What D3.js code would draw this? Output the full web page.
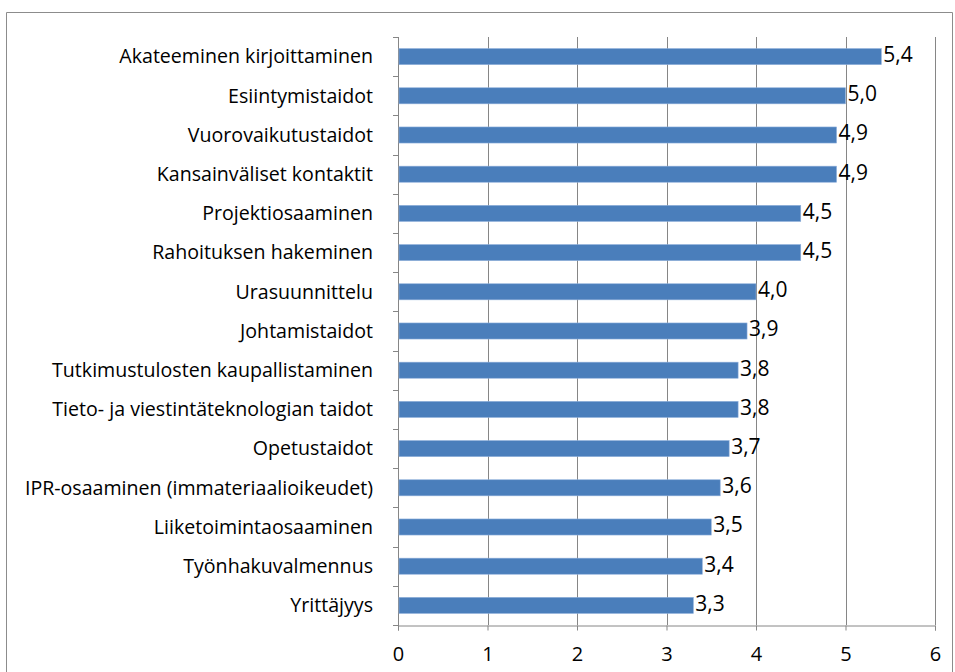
<!DOCTYPE html>
<html>
<head>
<meta charset="utf-8">
<script src="https://cdn.jsdelivr.net/npm/d3@7"></script>
<style>
  body { margin: 0; background: #fff; }
  svg text { font-family: "Open Sans", sans-serif; fill: #000; }
</style>
</head>
<body>
<svg id="chart" width="955" height="672"></svg>
<script>
// categories, top to bottom
var categories = [
  "Akateeminen kirjoittaminen",
  "Esiintymistaidot",
  "Vuorovaikutustaidot",
  "Kansainväliset kontaktit",
  "Projektiosaaminen",
  "Rahoituksen hakeminen",
  "Urasuunnittelu",
  "Johtamistaidot",
  "Tutkimustulosten kaupallistaminen",
  "Tieto- ja viestintäteknologian taidot",
  "Opetustaidot",
  "IPR-osaaminen (immateriaalioikeudet)",
  "Liiketoimintaosaaminen",
  "Työnhakuvalmennus",
  "Yrittäjyys"
];
var values = [5.4, 5.0, 4.9, 4.9, 4.5, 4.5, 4.0, 3.9, 3.8, 3.8, 3.7, 3.6, 3.5, 3.4, 3.3];
var xTicks = [0, 1, 2, 3, 4, 5, 6];

var svg = d3.select("#chart");
var m = {left: 398, right: 935, top: 37, bottom: 625};

// outer frame (bottom edge is cut off in the original)
svg.append("path")
  .attr("d", "M6.5,672 V12.5 H952.5 V672")
  .attr("fill", "none")
  .attr("stroke", "#8c8c8c")
  .attr("stroke-width", 1);

var x = d3.scaleLinear().domain([0, 6]).range([m.left, m.right]);
var y = d3.scaleBand().domain(categories).range([m.top, m.bottom]).paddingInner(0.59).paddingOuter(0.295);
var yb = d3.scaleBand().domain(categories).range([m.top, m.bottom]);

// vertical gridlines
svg.append("g").selectAll("line")
  .data(xTicks.slice(1))
  .enter().append("line")
  .attr("x1", d => Math.round(x(d)) + 0.5)
  .attr("x2", d => Math.round(x(d)) + 0.5)
  .attr("y1", m.top)
  .attr("y2", m.bottom)
  .attr("stroke", "#868686");

// bottom axis
var xAxis = svg.append("g")
  .attr("transform", "translate(0," + (m.bottom + 0.5) + ")")
  .call(d3.axisBottom(x).tickValues(xTicks).tickSize(5).tickPadding(16).tickFormat(d3.format("d")));
xAxis.select(".domain").attr("stroke", "#868686");
xAxis.selectAll(".tick line").attr("stroke", "#868686");
xAxis.selectAll("text").attr("font-size", 20).attr("fill", "#000");

// left axis with ticks at band edges
var yl = svg.append("g");
yl.append("line")
  .attr("x1", m.left + 0.5).attr("x2", m.left + 0.5)
  .attr("y1", m.top).attr("y2", m.bottom + 5)
  .attr("stroke", "#868686");
yl.selectAll(".edge")
  .data(categories.concat([null]))
  .enter().append("line")
  .attr("class", "edge")
  .attr("x1", m.left - 5).attr("x2", m.left)
  .attr("y1", (d, i) => Math.round(m.top + i * yb.step()) + 0.5)
  .attr("y2", (d, i) => Math.round(m.top + i * yb.step()) + 0.5)
  .attr("stroke", "#868686");

yl.selectAll(".cat")
  .data(categories)
  .enter().append("text")
  .attr("x", m.left - 25)
  .attr("y", d => yb(d) + yb.bandwidth() / 2)
  .attr("dy", "0.35em")
  .attr("text-anchor", "end")
  .attr("font-size", 19.6)
  .text(d => d);

// bars
svg.append("g").selectAll("rect")
  .data(values)
  .enter().append("rect")
  .attr("x", m.left + 1)
  .attr("y", (d, i) => y(categories[i]))
  .attr("width", d => x(d) - m.left - 1)
  .attr("height", y.bandwidth())
  .attr("fill", "#4a7ebb")
  .attr("stroke", "#8fb0db")
  .attr("stroke-width", 0.6);

// value labels
svg.append("g").selectAll("text")
  .data(values)
  .enter().append("text")
  .attr("x", d => x(d) + 2)
  .attr("y", (d, i) => yb(categories[i]) + yb.bandwidth() / 2 - 2)
  .attr("dy", "0.35em")
  .attr("font-size", 21)
  .text(d => d3.format(".1f")(d).replace(".", ","));
</script>
</body>
</html>
